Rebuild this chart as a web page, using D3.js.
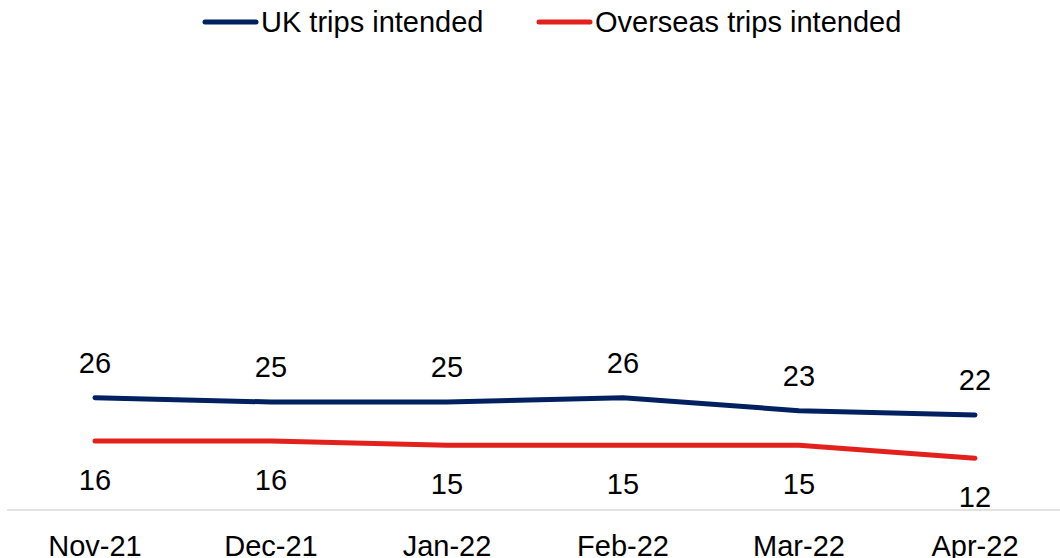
<!DOCTYPE html>
<html><head><meta charset="utf-8">
<script src="https://cdn.jsdelivr.net/npm/d3@7"></script>
<style>body{margin:0;background:#fff;}svg{display:block;font-family:Arial,"Liberation Sans",sans-serif;}</style>
</head><body><svg id="c" width="1060" height="558"></svg>
<script>
const categories = ["Nov-21","Dec-21","Jan-22","Feb-22","Mar-22","Apr-22"];
const ukTrips = [26,25,25,26,23,22];
const overseasTrips = [16,16,15,15,15,12];
const seriesNames = ["UK trips intended","Overseas trips intended"];
const seriesColors = ["#002060","#E3211C"];

const svg = d3.select("#c");
const x = d3.scaleBand().domain(categories).range([7,1063]);
const y = d3.scaleLinear().domain([0,100]).range([510,78]);
const cx = d => x(d) + x.bandwidth()/2;

svg.append("line").attr("x1",7).attr("x2",1060).attr("y1",510).attr("y2",510)
  .attr("stroke","#d9d9d9").attr("stroke-width",1.5);

const xAxis = svg.append("g").attr("transform","translate(0,510)")
  .call(d3.axisBottom(x).tickSize(0).tickPadding(0));
xAxis.select(".domain").remove();
xAxis.selectAll("text").attr("font-size",29).attr("fill","#000")
  .attr("font-family","Arial, 'Liberation Sans', sans-serif")
  .attr("dy",null).attr("y",46);

const series = [ukTrips, overseasTrips];
const line = d3.line().x((d,i)=>cx(categories[i])).y(d=>y(d));
series.forEach((s,k)=>{
  svg.append("path").datum(s).attr("d",line).attr("fill","none")
    .attr("stroke",seriesColors[k]).attr("stroke-width",5)
    .attr("stroke-linecap","round").attr("stroke-linejoin","round");
  svg.selectAll(null).data(s).enter().append("text")
    .attr("x",(d,i)=>cx(categories[i]))
    .attr("y",d=> k===0 ? y(d)-25 : y(d)+49)
    .attr("text-anchor","middle").attr("font-size",29).attr("fill","#000")
    .text(d=>d);
});

// legend
const legX = [203, 537];
seriesNames.forEach((n,k)=>{
  const g = svg.append("g").attr("transform",`translate(${legX[k]},22)`);
  g.append("line").attr("x1",2).attr("x2",53).attr("y1",0).attr("y2",0)
    .attr("stroke",seriesColors[k]).attr("stroke-width",5).attr("stroke-linecap","round");
  g.append("text").attr("x",58).attr("y",10).attr("font-size",29).attr("fill","#000").text(n);
});
</script></body></html>
